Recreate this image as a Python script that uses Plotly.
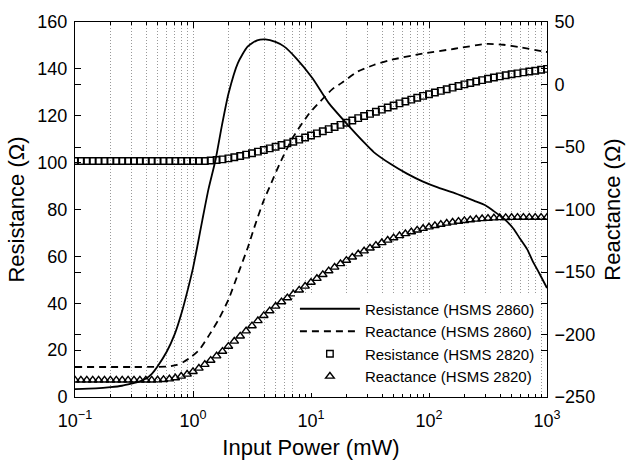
import numpy as np
import plotly.graph_objects as go

# ---------------- data ----------------
# marker series are sampled every 0.5 dBm from -10 dBm (0.1 mW) to 30 dBm (1000 mW)
dbm_steps = np.arange(-10.0, 30.001, 0.5)
power_markers = 10 ** (dbm_steps / 10.0)

res_2820 = [100.7] * 23 + [
    100.9, 101.1, 101.4, 101.8, 102.3, 102.8, 103.4, 104.0, 104.7, 105.4, 106.1, 106.8, 107.5, 108.2, 108.9,
    109.8, 110.7, 111.6, 112.5, 113.4, 114.3, 115.2, 116.1, 117.0, 118.0, 119.0,
    119.9, 120.8, 121.7, 122.6, 123.5, 124.4, 125.3, 126.1, 126.9, 127.7, 128.5, 129.2, 129.9, 130.6, 131.3,
    132.0, 132.7, 133.4, 134.0, 134.6, 135.2, 135.8, 136.3, 136.8, 137.3, 137.7, 138.1, 138.5, 138.9, 139.2,
    139.6, 140.0]

reac_2820 = [-236.5] * 14 + [
    -236.4, -236.1, -235.6, -234.7, -233.4, -231.8,
    -229.7, -227.0, -224.0, -220.7, -217.2, -213.5, -209.5, -205.4, -201.3, -197.2, -193.1, -189.0, -184.9,
    -181.1, -177.4, -173.9, -170.7,
    -167.6, -164.5, -161.4, -158.3, -155.2, -152.1, -149.1, -146.2, -143.4, -140.7, -138.1, -135.6, -133.2,
    -130.9, -128.7, -126.6, -124.6, -122.7, -121.0, -119.4, -117.9, -116.5, -115.2, -114.0, -112.9, -111.9,
    -111.0, -110.2, -109.5, -108.9, -108.3, -107.8, -107.4, -107.1, -106.8, -106.6, -106.5, -106.4,
    -106.3, -106.3, -106.3, -106.3, -106.3, -106.3]

res_2860_p = [0.1, 0.15, 0.2, 0.25, 0.3, 0.35, 0.4, 0.45, 0.5, 0.6, 0.7, 0.8, 0.9, 1.0, 1.1, 1.2, 1.35,
              1.55, 1.76, 2.0, 2.4, 2.9, 3.5, 4.1, 5.0, 5.9, 7.5, 10.3, 14.1, 20.6, 28.3, 34, 47, 65,
              88, 120, 165, 240, 300, 354, 440, 520, 583, 680, 751, 860, 1000]
res_2860 = [3.4, 3.7, 4.2, 4.8, 5.7, 6.6, 7.9, 10.0, 13.0, 19.4, 26.8, 35.8, 45.5, 55.0, 65.5, 75.5, 88.5,
            101.0, 116.0, 129.5, 142.5, 149.5, 152.2, 152.6, 151.5, 149.6, 144.5, 136.0, 125.5, 116.0,
            108.5, 104.5, 99.5, 95.3, 92.0, 89.3, 87.0, 83.8, 81.8, 79.3, 75.7, 71.8, 68.0, 63.0, 58.3,
            52.8, 46.5]

reac_2860_p = [0.1, 0.3, 0.5, 0.62, 0.73, 0.83, 0.94, 1.13, 1.37, 1.66, 2.0, 2.42, 2.92, 3.3, 3.95, 4.6,
               5.48, 7.06, 9.7, 12.7, 15.1, 18.2, 24.9, 34.1, 46.8, 87.9, 165, 310, 426, 585, 908, 1000]
reac_2860 = [-226.0, -226.0, -225.9, -225.6, -224.3, -222.0, -218.8, -212.3, -200.5, -187.5, -171.9,
             -151.0, -130.2, -114.6, -93.5, -79.0, -62.5, -42.0, -23.0, -11.0, -3.9, 1.3, 10.4, 15.6,
             19.5, 24.7, 28.6, 32.5, 31.8, 29.9, 26.6, 26.0]

x_major = [0.1, 1, 10, 100, 1000]
x_major_text = ["10<sup>−1</sup>", "10<sup>0</sup>", "10<sup>1</sup>", "10<sup>2</sup>", "10<sup>3</sup>"]
x_minor = [m * d for d in (0.1, 1, 10, 100) for m in range(2, 10)]

# ---------------- figure ----------------
fig = go.Figure()
fig.add_trace(go.Scatter(x=res_2860_p, y=res_2860, mode="lines", name="Resistance (HSMS 2860)",
                         line=dict(color="black", width=1.8, shape="spline", smoothing=0.6), yaxis="y"))
fig.add_trace(go.Scatter(x=reac_2860_p, y=reac_2860, mode="lines", name="Reactance (HSMS 2860)",
                         line=dict(color="black", width=1.8, dash="7px,5px", shape="spline", smoothing=0.6),
                         yaxis="y2"))
fig.add_trace(go.Scatter(x=power_markers, y=res_2820, mode="markers", name="Resistance (HSMS 2820)",
                         marker=dict(symbol="square-open", size=6.5, color="black", line=dict(width=1.4)),
                         yaxis="y"))
fig.add_trace(go.Scatter(x=power_markers, y=reac_2820, mode="markers", name="Reactance (HSMS 2820)",
                         marker=dict(symbol="triangle-up-open", size=7.5, color="black", line=dict(width=1.4)),
                         yaxis="y2"))

grid_col = "#999999"
grid_dash = "1px,2px"
fig.update_layout(
    width=633, height=468,
    margin=dict(l=75, r=72, t=16, b=68),
    paper_bgcolor="white", plot_bgcolor="white",
    font=dict(family="Liberation Sans, Arial, sans-serif", size=18, color="black"),
    showlegend=True,
    legend=dict(x=0.985, y=0.012, xanchor="right", yanchor="bottom", bgcolor="white",
                borderwidth=0, font=dict(size=15), tracegroupgap=0, itemwidth=60),
    xaxis=dict(type="log", range=[-1, 3], tickvals=x_major, ticktext=x_major_text,
               ticks="inside", ticklen=6, tickcolor="black", showline=True, linecolor="black",
               linewidth=1, mirror="ticks", showgrid=True, gridcolor=grid_col, griddash=grid_dash,
               gridwidth=1, zeroline=False, ticklabelstandoff=7,
               minor=dict(tickvals=x_minor, ticks="inside", ticklen=3, tickcolor="black",
                          showgrid=True, gridcolor=grid_col, griddash=grid_dash, gridwidth=1),
               title=dict(text="Input Power (mW)", standoff=10)),
    yaxis=dict(range=[0, 160], tick0=0, dtick=20, ticks="inside", ticklen=6, tickcolor="black",
               showline=True, linecolor="black", linewidth=1, mirror="ticks", showgrid=False,
               zeroline=False, ticklabelstandoff=3, title=dict(text="Resistance (Ω)", standoff=6)),
    yaxis2=dict(range=[-250, 50], tick0=-250, dtick=50, ticks="inside", ticklen=6, tickcolor="black",
                overlaying="y", side="right", showline=True, linecolor="black", linewidth=1,
                mirror="ticks", showgrid=False, zeroline=False, ticklabelstandoff=3,
                title=dict(text="Reactance (Ω)", standoff=10)),
)

fig.write_html("out.html")
